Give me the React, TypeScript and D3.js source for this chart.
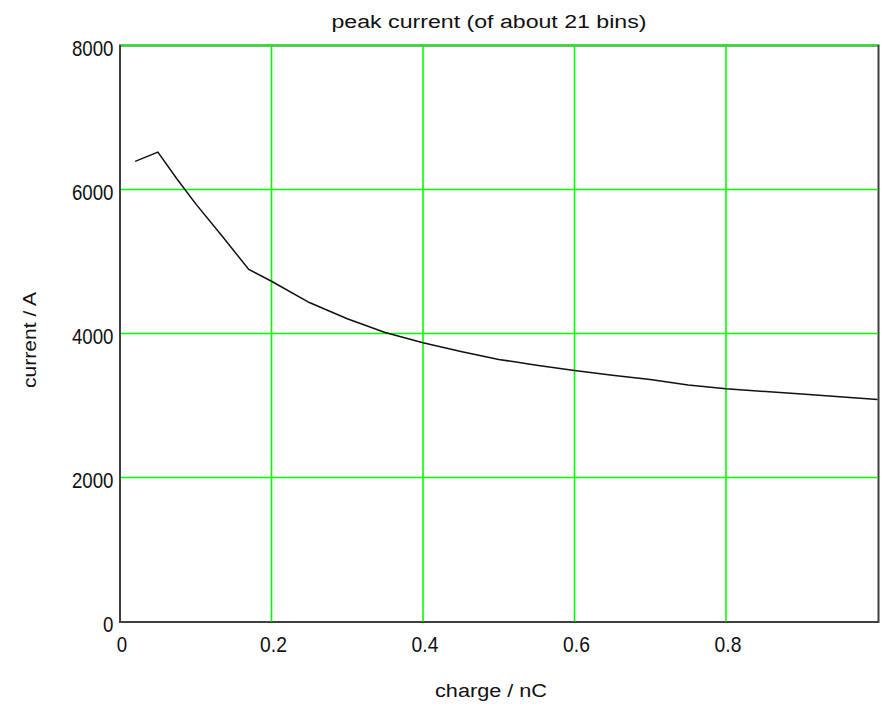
import React from "react";
import * as d3 from "d3";

const charge: number[] = [0.02, 0.05, 0.075, 0.1, 0.135, 0.17, 0.2, 0.25, 0.3, 0.35, 0.4, 0.45, 0.5, 0.55, 0.6, 0.65, 0.7, 0.75, 0.8, 0.9, 1.0];
const current: number[] = [6390, 6520, 6150, 5800, 5350, 4890, 4726, 4430, 4205, 4015, 3871, 3750, 3640, 3560, 3486, 3420, 3362, 3285, 3232, 3160, 3083];
const xTicks: number[] = [0, 0.2, 0.4, 0.6, 0.8];
const yTicks: number[] = [0, 2000, 4000, 6000, 8000];
const title = "peak current (of about 21 bins)";
const xTitle = "charge / nC";
const yTitle = "current / A";

const W = 883;
const H = 706;
const left = 120;
const right = 877.5;
const top = 45.5;
const bottom = 621.5;
const font = "'Liberation Sans', Arial, sans-serif";
const green = "#00ff00";
const axisCol = "#404040";

const labelLen = (s: string) => {
  let w = 0;
  for (const c of s) w += c === "." ? 6 : 10.4;
  return w;
};

export default function App() {
  const x = d3.scaleLinear().domain([0, 1]).range([left, right]);
  const y = d3.scaleLinear().domain([0, 8000]).range([bottom, top]);
  const line = d3
    .line<number>()
    .x((_, i) => x(charge[i]))
    .y((d) => y(d));
  const fmtX = (v: number) => (v === 0 ? "0" : d3.format(".1f")(v));

  return (
    <svg
      width={W}
      height={H}
      style={{ position: "absolute", left: 0, top: 0, background: "#fff" }}
    >
      <rect x={0} y={0} width={W} height={H} fill="#fff" />
      {/* frame */}
      <rect
        x={left}
        y={top}
        width={right + 1 - left}
        height={bottom + 0.5 - top}
        fill="none"
        stroke={axisCol}
        strokeWidth={2}
      />
      {/* vertical gridlines */}
      {xTicks
        .filter((t) => t > 0)
        .map((t) => (
          <line
            key={"gx" + t}
            x1={x(t)}
            x2={x(t)}
            y1={top}
            y2={bottom}
            stroke={green}
            strokeWidth={1.6}
          />
        ))}
      {/* horizontal gridlines */}
      {yTicks
        .filter((t) => t > 0)
        .map((t) => (
          <line
            key={"gy" + t}
            x1={left + 1}
            x2={right}
            y1={y(t)}
            y2={y(t)}
            stroke={green}
            strokeWidth={1.6}
          />
        ))}
      {/* curve */}
      <path d={line(current) || ""} fill="none" stroke="#111" strokeWidth={1.5} />
      {/* x tick labels */}
      {xTicks.map((t) => {
        const s = fmtX(t);
        return (
          <text
            key={"tx" + t}
            x={x(t) + 2}
            y={652.3}
            textAnchor="middle"
            fontFamily={font}
            fontSize={22}
            textLength={labelLen(s)}
            lengthAdjust="spacingAndGlyphs"
            fill="#111"
          >
            {s}
          </text>
        );
      })}
      {/* y tick labels */}
      {yTicks.map((t) => {
        const s = String(t);
        return (
          <text
            key={"ty" + t}
            x={113.5}
            y={y(t) + 10}
            textAnchor="end"
            fontFamily={font}
            fontSize={22}
            textLength={labelLen(s)}
            lengthAdjust="spacingAndGlyphs"
            fill="#111"
          >
            {s}
          </text>
        );
      })}
      {/* title */}
      <text
        x={489}
        y={28}
        textAnchor="middle"
        fontFamily={font}
        fontSize={18}
        textLength={315}
        lengthAdjust="spacingAndGlyphs"
        fill="#111"
      >
        {title}
      </text>
      {/* x title */}
      <text
        x={491}
        y={697}
        textAnchor="middle"
        fontFamily={font}
        fontSize={18}
        textLength={112}
        lengthAdjust="spacingAndGlyphs"
        fill="#111"
      >
        {xTitle}
      </text>
      {/* y title */}
      <text
        transform="translate(36,340) rotate(-90)"
        textAnchor="middle"
        fontFamily={font}
        fontSize={18}
        textLength={96}
        lengthAdjust="spacingAndGlyphs"
        fill="#111"
      >
        {yTitle}
      </text>
    </svg>
  );
}
